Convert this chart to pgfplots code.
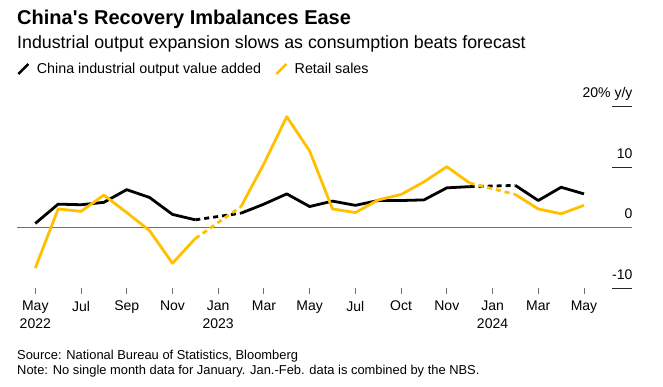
\documentclass[border=0pt]{standalone}
\usepackage{pgfplots}
\pgfplotsset{compat=1.18}
\usepackage{fontspec}
\setmainfont{Liberation Sans}
\definecolor{bbyellow}{RGB}{255,192,0}
\definecolor{tickgray}{RGB}{110,110,110}
\begin{document}
\begin{tikzpicture}[x=1pt,y=1pt]
\useasboundingbox (0,0) rectangle (663,386);
\node[anchor=base west, inner sep=0pt] at (17,361) {\fontsize{20}{23}\selectfont\bfseries China\textquotesingle s Recovery Imbalances Ease};
\node[anchor=base west, inner sep=0pt] at (17,337) {\fontsize{17.8}{20}\selectfont Industrial output expansion slows as consumption beats forecast};
\node[anchor=base west, inner sep=0pt] at (17,27) {\fontsize{12.9}{15}\selectfont Source: National Bureau of Statistics, Bloomberg};
\node[anchor=base west, inner sep=0pt] at (17,12) {\fontsize{12.9}{15}\selectfont Note: No single month data for January. Jan.-Feb. data is combined by the NBS.};
\begin{axis}[
  at={(17pt,98pt)}, anchor=south west,
  scale only axis, width=615pt, height=181pt,
  xmin=-0.8, xmax=26.1, ymin=-10, ymax=20,
  axis line style={draw=none},
  clip=false,
  xtick={0,2,...,24},
  xticklabels={May\\2022, Jul, Sep, Nov, Jan\\2023, Mar, May, Jul, Oct, Nov, Jan\\2024, Mar, May},
  xticklabel style={align=center, font=\fontsize{14}{18.3}\selectfont, text=black, anchor=north, yshift=-3.5pt},
  tick align=outside, major tick length=6pt,
  xtick pos=bottom,
  xtick style={draw=tickgray, line width=0.9pt},
  ytick={-10,0,10,20},
  yticklabels={-10,0,10,20\% y/y},
  yticklabel pos=right,
  ytick style={draw=none},
  yticklabel style={anchor=base east, font=\fontsize{14}{17}\selectfont, yshift=9pt, xshift=-2pt},
  legend style={at={(0,1.21)}, anchor=west, draw=none, fill=none, inner sep=0pt,
    font=\fontsize{14.3}{17}\selectfont, legend columns=2,
    /tikz/every even column/.append style={column sep=12pt}},
  legend cell align=left,
  legend image code/.code={\draw[#1, solid, line width=2.5pt] (0pt,-5pt) -- (10pt,5pt); \path (15pt,0pt);},
]
\draw[tickgray, line width=1pt] (axis cs:-0.8,0) -- (axis cs:26.1,0);
\draw[black!85, line width=1pt] (axis cs:26.1,20) -- (axis cs:25.225,20);
\draw[black!85, line width=1pt] (axis cs:26.1,10) -- (axis cs:25.225,10);
\draw[black!85, line width=1pt] (axis cs:26.1,-10) -- (axis cs:25.225,-10);
% Industrial output
\addplot[black, line width=2.8pt, line join=round, no markers] coordinates {(0,0.7)(1,3.9)(2,3.8)(3,4.2)(4,6.3)(5,5.0)(6,2.2)(7,1.3)};
\addlegendentry{China industrial output value added}
\addplot[black, line width=2.8pt, dash pattern=on 5pt off 4pt, no markers, forget plot] coordinates {(7,1.3)(9,2.4)};
\addplot[black, line width=2.8pt, line join=round, no markers, forget plot] coordinates {(9,2.4)(10,3.9)(11,5.6)(12,3.5)(13,4.4)(14,3.7)(15,4.5)(16,4.5)(17,4.6)(18,6.6)(19,6.8)};
\addplot[black, line width=2.8pt, dash pattern=on 5pt off 4pt, no markers, forget plot] coordinates {(19,6.8)(21,7.0)};
\addplot[black, line width=2.8pt, line join=round, no markers, forget plot] coordinates {(21,7.0)(22,4.5)(23,6.7)(24,5.6)};
% Retail sales
\addplot[bbyellow, line width=2.8pt, line join=round, no markers] coordinates {(0,-6.7)(1,3.1)(2,2.7)(3,5.4)(4,2.5)(5,-0.5)(6,-5.9)(7,-1.8)};
\addlegendentry{Retail sales}
\addplot[bbyellow, line width=2.8pt, dash pattern=on 5pt off 4pt, no markers, forget plot] coordinates {(7,-1.8)(9,3.5)};
\addplot[bbyellow, line width=2.8pt, line join=round, no markers, forget plot] coordinates {(9,3.5)(10,10.6)(11,18.4)(12,12.7)(13,3.1)(14,2.5)(15,4.6)(16,5.5)(17,7.6)(18,10.1)(19,7.4)};
\addplot[bbyellow, line width=2.8pt, dash pattern=on 5pt off 4pt, no markers, forget plot] coordinates {(19,7.4)(21,5.5)};
\addplot[bbyellow, line width=2.8pt, line join=round, no markers, forget plot] coordinates {(21,5.5)(22,3.1)(23,2.3)(24,3.7)};
\end{axis}
\end{tikzpicture}
\end{document}
